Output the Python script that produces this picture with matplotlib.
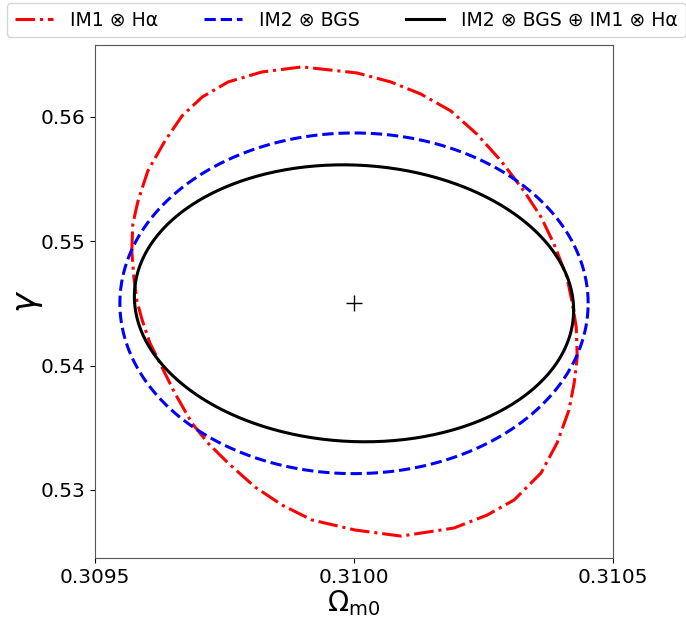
import numpy as np
import matplotlib
matplotlib.use('Agg')
import matplotlib.pyplot as plt

# fiducial point
om_fid = 0.3100
gamma_fid = 0.545

# gaussian ellipses: half x-extent, half y-extent, correlation
blue_ax, blue_ay, blue_rho = 0.000452, 0.01369, 0.0
black_ax, black_ay, black_rho = 0.000424, 0.01113, -0.05

# IM1 x Halpha contour (non-elliptical)
red_om = [0.309571, 0.309573, 0.309583, 0.309602, 0.309635, 0.309668, 0.309707,
          0.309757, 0.309822, 0.309900, 0.310006, 0.310071, 0.310129, 0.310187,
          0.310237, 0.310284, 0.310328, 0.310361, 0.310386, 0.310411, 0.310421,
          0.310429, 0.310431, 0.310425, 0.310415, 0.310392, 0.310361, 0.310309,
          0.310257, 0.310193, 0.310091, 0.310002, 0.309919, 0.309861, 0.309809,
          0.309757, 0.309718, 0.309687, 0.309654, 0.309629, 0.309606, 0.309591,
          0.309581, 0.309575, 0.309571]
red_gamma = [0.54920, 0.55137, 0.55322, 0.55564, 0.55805, 0.56006, 0.56158,
             0.56279, 0.56359, 0.56400, 0.56351, 0.56279, 0.56182, 0.56046,
             0.55861, 0.55644, 0.55403, 0.55194, 0.54977, 0.54711, 0.54510,
             0.54309, 0.54068, 0.53859, 0.53642, 0.53377, 0.53136, 0.52919,
             0.52798, 0.52694, 0.52629, 0.52678, 0.52758, 0.52879, 0.53023,
             0.53216, 0.53377, 0.53538, 0.53779, 0.53988, 0.54181, 0.54366,
             0.54518, 0.54711, 0.54920]

labels = ['IM1 ⊗ Hα', 'IM2 ⊗ BGS', 'IM2 ⊗ BGS ⊕ IM1 ⊗ Hα']


def ellipse(ax_, ay_, rho):
    t = np.linspace(0, 2 * np.pi, 400)
    x = om_fid + ax_ * np.cos(t)
    y = gamma_fid + ay_ * (rho * np.cos(t) + np.sqrt(1 - rho ** 2) * np.sin(t))
    return x, y


fig = plt.figure(figsize=(6.86, 6.19), dpi=100)
ax = fig.add_axes([95 / 686, 1 - 558 / 619, 518 / 686, 513.5 / 619])

ax.plot(red_om, red_gamma, color='red', ls='-.', lw=2.2, label=labels[0])
bx, by = ellipse(blue_ax, blue_ay, blue_rho)
ax.plot(bx, by, color='blue', ls='--', lw=2.2, label=labels[1])
kx, ky = ellipse(black_ax, black_ay, black_rho)
ax.plot(kx, ky, color='black', ls='-', lw=2.2, label=labels[2])
ax.plot([om_fid], [gamma_fid], marker='+', color='black', ms=12, mew=1.0)

ax.set_xlim(0.3095, 0.3105)
ax.set_ylim(0.52453, 0.5658)
ax.set_xticks([0.3095, 0.3100, 0.3105])
ax.set_xticklabels(['0.3095', '0.3100', '0.3105'])
ax.set_yticks([0.53, 0.54, 0.55, 0.56])
ax.tick_params(labelsize=14.5)
for s in ax.spines.values():
    s.set_color('#555555')
ax.set_xlabel(r'$\Omega_{\rm m0}$', fontsize=20, labelpad=1)
ax.set_ylabel(r'$\gamma$', fontsize=24, labelpad=-3)

fig.legend(loc='upper left', bbox_to_anchor=(7 / 686, 1 - 3 / 619), ncol=3,
           borderaxespad=0, fontsize=13.6, handlelength=2.05,
           handletextpad=0.9, columnspacing=2.4)

fig.savefig('out.png', dpi=100)
